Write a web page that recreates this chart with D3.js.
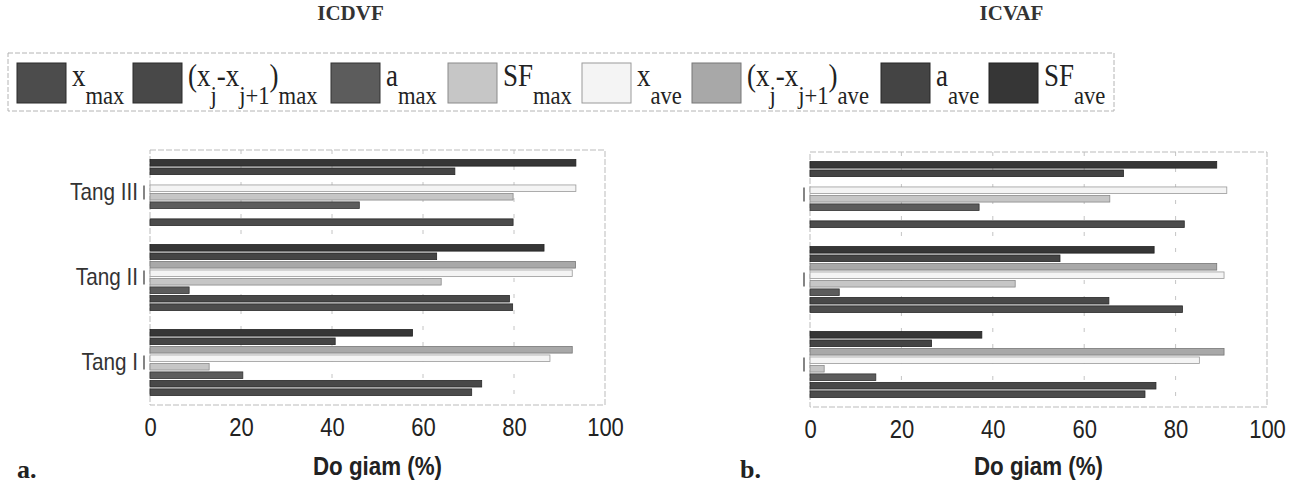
<!DOCTYPE html>
<html>
<head>
<meta charset="utf-8">
<script src="https://cdn.jsdelivr.net/npm/d3@7"></script>
<style>
  body { margin: 0; background: #fff; }
  svg { display: block; }
</style>
</head>
<body>
<div id="chart"></div>
<script>
// categories (floors) and x ticks
const categories = ['Tang I', 'Tang II', 'Tang III'];
const xTicks = [0, 20, 40, 60, 80, 100];

// series, in legend order
const seriesKeys = ['xMax', 'dxMax', 'aMax', 'sfMax', 'xAve', 'dxAve', 'aAve', 'sfAve'];

// ICDVF (panel a), values per floor: Tang I, Tang II, Tang III
const dvfXMax  = [70.7, 79.7, 79.8];
const dvfDxMax = [72.9, 79.0, null];
const dvfAMax  = [20.4, 8.6, 46.0];
const dvfSfMax = [13.0, 64.0, 79.8];
const dvfXAve  = [87.9, 92.8, 93.6];
const dvfDxAve = [92.8, 93.5, null];
const dvfAAve  = [40.7, 63.0, 67.0];
const dvfSfAve = [57.7, 86.6, 93.6];

// ICVAF (panel b)
const vafXMax  = [73.3, 81.5, 81.9];
const vafDxMax = [75.7, 65.4, null];
const vafAMax  = [14.4, 6.4, 37.0];
const vafSfMax = [3.1, 44.9, 65.6];
const vafXAve  = [85.2, 90.6, 91.2];
const vafDxAve = [90.6, 89.0, null];
const vafAAve  = [26.6, 54.7, 68.6];
const vafSfAve = [37.6, 75.3, 89.0];

const fills   = ['#4c4c4c', '#484848', '#5c5c5c', '#c6c6c6', '#f4f4f4', '#a8a8a8', '#444444', '#363636'];
const strokes = ['#2a2a2a', '#2a2a2a', '#333333', '#8a8a8a', '#9a9a9a', '#777777', '#262626', '#222222'];

const legendLabels = [
  [['x'], ['max', 1]],
  [['(x'], ['j', 1], ['-x'], ['j+1', 1], [')'], ['max', 1]],
  [['a'], ['max', 1]],
  [['SF'], ['max', 1]],
  [['x'], ['ave', 1]],
  [['(x'], ['j', 1], ['-x'], ['j+1', 1], [')'], ['ave', 1]],
  [['a'], ['ave', 1]],
  [['SF'], ['ave', 1]]
];
const legendX = [17, 133, 331, 448, 582, 692, 881, 989];

const width = 1301;
const height = 483;

const svg = d3.select('#chart')
  .append('svg')
  .attr('width', width)
  .attr('height', height)
  .attr('viewBox', [0, 0, width, height]);

// legend
const lg = svg.append('g');
lg.append('rect')
  .attr('x', 8).attr('y', 53).attr('width', 1106).attr('height', 58)
  .attr('fill', 'none').attr('stroke', '#b4b4b4').attr('stroke-dasharray', '5,2');

legendLabels.forEach((parts, i) => {
  const sx = legendX[i];
  lg.append('rect')
    .attr('x', sx).attr('y', 63).attr('width', 49).attr('height', 40)
    .attr('fill', fills[i]).attr('stroke', strokes[i]).attr('stroke-width', 1);
  const t = lg.append('text')
    .attr('transform', `translate(${sx + 55},86) scale(0.87,1)`)
    .attr('font-family', '"Liberation Serif", "Times New Roman", serif')
    .attr('fill', '#222');
  let down = false;
  parts.forEach(p => {
    const sub = !!p[1];
    const ts = t.append('tspan').text(p[0])
      .attr('font-size', sub ? 26 : 31);
    if (sub && !down) { ts.attr('dy', 18); down = true; }
    else if (!sub && down) { ts.attr('dy', -18); down = false; }
  });
});

const panels = [
  {title: 'ICDVF', tag: 'a.', tagX: 17, x0: 150, x1: 605, y0: 150, y1: 405, labels: true,
   values: [dvfXMax, dvfDxMax, dvfAMax, dvfSfMax, dvfXAve, dvfDxAve, dvfAAve, dvfSfAve]},
  {title: 'ICVAF', tag: 'b.', tagX: 740, x0: 810, x1: 1267, y0: 152, y1: 407, labels: false,
   values: [vafXMax, vafDxMax, vafAMax, vafSfMax, vafXAve, vafDxAve, vafAAve, vafSfAve]}
];

panels.forEach(p => {
  const g = svg.append('g');

  const x = d3.scaleLinear().domain([0, 100]).range([p.x0, p.x1]);
  const y = d3.scaleBand().domain(categories.slice().reverse()).range([p.y0, p.y1]);
  const inner = d3.scaleBand()
    .domain(seriesKeys.slice().reverse())
    .range([0, y.bandwidth()])
    .paddingInner(0.22)
    .paddingOuter(1.12);

  // title
  g.append('text')
    .attr('x', (p.x0 + p.x1) / 2 - 27).attr('y', 20)
    .attr('text-anchor', 'middle')
    .attr('font-family', '"Liberation Serif", "Times New Roman", serif')
    .attr('font-weight', 'bold').attr('font-size', 21).attr('fill', '#333')
    .text(p.title);

  // grid (dotted)
  g.append('g')
    .selectAll('line')
    .data(xTicks.slice(1, -1))
    .join('line')
    .attr('x1', d => x(d)).attr('x2', d => x(d))
    .attr('y1', p.y0).attr('y2', p.y1)
    .attr('stroke', '#c4c4c4').attr('stroke-dasharray', '4,12');

  // frame
  g.append('rect')
    .attr('x', p.x0).attr('y', p.y0)
    .attr('width', p.x1 - p.x0).attr('height', p.y1 - p.y0)
    .attr('fill', 'none').attr('stroke', '#bbb').attr('stroke-dasharray', '6,2');

  // bars
  const rows = [];
  categories.forEach((c, ci) => {
    seriesKeys.forEach((k, si) => {
      const v = p.values[si][ci];
      if (v != null) rows.push({cat: c, key: k, si: si, value: v});
    });
  });

  g.append('g')
    .selectAll('rect')
    .data(rows)
    .join('rect')
    .attr('x', x(0))
    .attr('y', d => y(d.cat) + inner(d.key))
    .attr('width', d => x(d.value) - x(0))
    .attr('height', inner.bandwidth())
    .attr('fill', d => fills[d.si])
    .attr('stroke', d => strokes[d.si])
    .attr('stroke-width', 0.8);

  // x axis
  const xa = g.append('g')
    .attr('transform', `translate(0,${p.y1})`)
    .call(d3.axisBottom(x).tickValues(xTicks).tickSize(0).tickPadding(13));
  xa.select('.domain').remove();
  xa.selectAll('text')
    .attr('font-family', '"Liberation Sans", Arial, sans-serif')
    .attr('font-size', 25)
    .attr('fill', '#222')
    .attr('transform', 'scale(0.88,1)');

  // y ticks (small marks) and labels
  g.append('g')
    .selectAll('line')
    .data(categories)
    .join('line')
    .attr('x1', p.x0 - 6).attr('x2', p.x0 - 6)
    .attr('y1', d => y(d) + y.bandwidth() / 2 - 7)
    .attr('y2', d => y(d) + y.bandwidth() / 2 + 7)
    .attr('stroke', '#666').attr('stroke-width', 1.6);

  if (p.labels) {
    const ya = g.append('g')
      .attr('transform', `translate(${p.x0 - 12},0)`)
      .call(d3.axisLeft(y).tickSize(0).tickPadding(0));
    ya.select('.domain').remove();
    ya.selectAll('text')
      .attr('font-family', '"Liberation Sans", Arial, sans-serif')
      .attr('font-size', 23)
      .attr('fill', '#333')
      .attr('transform', 'scale(0.9,1)');
  }

  // x title
  g.append('text')
    .attr('transform', `translate(${(p.x0 + p.x1) / 2},475) scale(0.86,1)`)
    .attr('text-anchor', 'middle')
    .attr('font-family', '"Liberation Sans", Arial, sans-serif')
    .attr('font-weight', 'bold').attr('font-size', 26).attr('fill', '#222')
    .text('Do giam (%)');

  // panel tag
  g.append('text')
    .attr('x', p.tagX).attr('y', 478)
    .attr('font-family', '"Liberation Serif", "Times New Roman", serif')
    .attr('font-weight', 'bold').attr('font-size', 26).attr('fill', '#222')
    .text(p.tag);
});
</script>
</body>
</html>
